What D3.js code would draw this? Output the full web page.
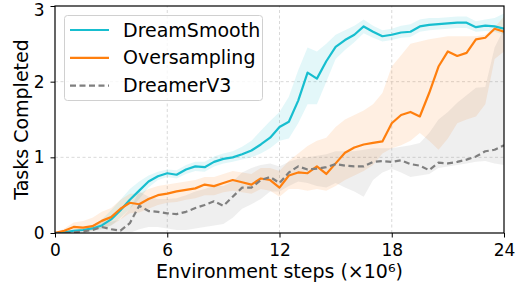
<!DOCTYPE html>
<html>
<head>
<meta charset="utf-8">
<script src="https://cdn.jsdelivr.net/npm/d3@7"></script>
<style>
  body { margin: 0; background: #fff; }
  text { font-family: "DejaVu Sans", sans-serif; fill: #000; }
</style>
</head>
<body>
<svg id="chart" width="516" height="288"></svg>
<script>
// x-Werte (Millionen Schritte), alle 0.5
const steps = d3.range(0, 24.01, 0.5);

// DreamSmooth: Mittelwert, untere / obere Grenze
const dreamSmooth = [0, 0.01, 0.03, 0.04, 0.06, 0.10, 0.18, 0.30, 0.44, 0.56, 0.68, 0.75, 0.79, 0.77, 0.84, 0.88, 0.87, 0.94, 0.98, 1.00,
  1.04, 1.09, 1.17, 1.26, 1.40, 1.47, 1.75, 2.12, 2.04, 2.27, 2.46, 2.55, 2.62, 2.73, 2.66, 2.60, 2.62, 2.65, 2.66, 2.73,
  2.75, 2.76, 2.77, 2.78, 2.78, 2.72, 2.74, 2.73, 2.70];
const dreamSmoothLo = [0, 0.0, 0.01, 0.02, 0.03, 0.05, 0.10, 0.20, 0.32, 0.45, 0.60, 0.70, 0.74, 0.72, 0.78, 0.82, 0.81, 0.88, 0.92, 0.94,
  0.97, 1.00, 1.05, 1.12, 1.22, 1.25, 1.45, 1.70, 1.70, 2.00, 2.30, 2.42, 2.52, 2.64, 2.58, 2.53, 2.55, 2.58, 2.59, 2.66,
  2.68, 2.69, 2.70, 2.71, 2.71, 2.66, 2.67, 2.66, 2.62];
const dreamSmoothHi = [0, 0.02, 0.05, 0.07, 0.10, 0.18, 0.30, 0.44, 0.58, 0.68, 0.76, 0.81, 0.84, 0.83, 0.90, 0.94, 0.94, 1.01, 1.05, 1.08,
  1.14, 1.22, 1.35, 1.48, 1.60, 1.80, 2.15, 2.45, 2.40, 2.50, 2.62, 2.68, 2.74, 2.82, 2.74, 2.68, 2.70, 2.74, 2.76, 2.82,
  2.84, 2.84, 2.85, 2.86, 2.86, 2.80, 2.82, 2.84, 2.90];

// Oversampling
const overSampling = [0, 0.03, 0.08, 0.07, 0.09, 0.16, 0.21, 0.32, 0.40, 0.38, 0.45, 0.50, 0.52, 0.55, 0.57, 0.59, 0.64, 0.62, 0.66, 0.70,
  0.67, 0.64, 0.72, 0.70, 0.60, 0.76, 0.80, 0.79, 0.88, 0.78, 0.92, 1.06, 1.13, 1.17, 1.19, 1.21, 1.45, 1.56, 1.60, 1.54,
  1.85, 2.20, 2.40, 2.34, 2.38, 2.56, 2.58, 2.70, 2.66];
const overSamplingLo = [0, 0.0, 0.02, 0.02, 0.03, 0.06, 0.10, 0.18, 0.26, 0.27, 0.32, 0.37, 0.40, 0.41, 0.44, 0.46, 0.50, 0.50, 0.54, 0.56,
  0.54, 0.52, 0.58, 0.56, 0.48, 0.58, 0.58, 0.56, 0.58, 0.56, 0.62, 0.70, 0.76, 0.82, 0.90, 1.05, 1.12, 1.16, 1.22, 1.32,
  1.22, 1.10, 1.25, 1.45, 1.50, 1.54, 1.70, 2.30, 2.40];
const overSamplingHi = [0, 0.06, 0.14, 0.16, 0.20, 0.28, 0.33, 0.44, 0.52, 0.52, 0.58, 0.62, 0.64, 0.66, 0.68, 0.70, 0.74, 0.74, 0.78, 0.82,
  0.80, 0.78, 0.86, 0.86, 0.82, 0.95, 1.05, 1.15, 1.22, 1.26, 1.40, 1.50, 1.56, 1.62, 1.70, 1.85, 2.20, 2.35, 2.50, 2.53,
  2.56, 2.58, 2.60, 2.60, 2.60, 2.60, 2.62, 2.72, 2.86];

// DreamerV3
const dreamerV3 = [0, 0.0, 0.01, 0.02, 0.04, 0.08, 0.05, 0.03, 0.13, 0.36, 0.29, 0.28, 0.26, 0.25, 0.28, 0.33, 0.37, 0.42, 0.36, 0.48,
  0.60, 0.60, 0.70, 0.74, 0.66, 0.80, 0.88, 0.84, 0.85, 0.87, 0.91, 0.89, 0.88, 0.88, 0.94, 0.95, 0.94, 0.96, 0.91, 0.89,
  0.83, 0.93, 0.92, 0.94, 0.97, 1.01, 1.08, 1.10, 1.16];
const dreamerV3Lo = [0, 0.0, 0.0, 0.0, 0.0, 0.0, 0.0, 0.0, 0.0, 0.05, 0.08, 0.08, 0.06, 0.04, 0.04, 0.06, 0.08, 0.10, 0.12, 0.20,
  0.32, 0.38, 0.45, 0.55, 0.55, 0.62, 0.68, 0.66, 0.62, 0.60, 0.66, 0.60, 0.55, 0.48, 0.70, 0.80, 0.85, 0.80, 0.74, 0.76,
  0.78, 0.86, 0.88, 0.90, 0.92, 0.94, 0.95, 0.92, 0.90];
const dreamerV3Hi = [0, 0.02, 0.04, 0.06, 0.10, 0.16, 0.15, 0.18, 0.32, 0.55, 0.48, 0.45, 0.45, 0.46, 0.50, 0.55, 0.58, 0.62, 0.62, 0.68,
  0.80, 0.86, 0.90, 0.92, 0.88, 0.94, 0.98, 1.00, 1.02, 1.04, 1.08, 1.08, 1.08, 1.10, 1.12, 1.12, 1.12, 1.14, 1.16, 1.19,
  1.32, 1.50, 1.60, 1.72, 1.82, 1.92, 1.93, 2.45, 2.70];

const xTicks = [0, 6, 12, 18, 24];
const yTicks = [0, 1, 2, 3];

const series = [
  { name: 'DreamSmooth', mean: dreamSmooth, lo: dreamSmoothLo, hi: dreamSmoothHi, color: '#17becf', dash: null },
  { name: 'Oversampling', mean: overSampling, lo: overSamplingLo, hi: overSamplingHi, color: '#ff7f0e', dash: null },
  { name: 'DreamerV3', mean: dreamerV3, lo: dreamerV3Lo, hi: dreamerV3Hi, color: '#7f7f7f', dash: '6,3.5' }
];

const margin = { left: 55, right: 12, top: 6, bottom: 55 };
const width = 516, height = 288;

const svg = d3.select('#chart');

const x = d3.scaleLinear().domain([0, 24]).range([margin.left, width - margin.right]);
const y = d3.scaleLinear().domain([0, 3]).range([height - margin.bottom, margin.top]);

// Clip auf Plotbereich
svg.append('defs').append('clipPath').attr('id', 'clip')
  .append('rect')
  .attr('x', x(0)).attr('y', y(3))
  .attr('width', x(24) - x(0)).attr('height', y(0) - y(3));

// Gitterlinien
const grid = svg.append('g');
grid.selectAll('line.gx').data(xTicks.slice(1, -1)).enter().append('line')
  .attr('x1', d => x(d)).attr('x2', d => x(d))
  .attr('y1', y(0)).attr('y2', y(3))
  .attr('stroke', '#cfcfcf').attr('stroke-width', 0.8).attr('stroke-dasharray', '3,2.5');
grid.selectAll('line.gy').data(yTicks.slice(1, -1)).enter().append('line')
  .attr('x1', x(0)).attr('x2', x(24))
  .attr('y1', d => y(d)).attr('y2', d => y(d))
  .attr('stroke', '#cfcfcf').attr('stroke-width', 0.8).attr('stroke-dasharray', '3,2.5');

const plot = svg.append('g').attr('clip-path', 'url(#clip)');

// Bänder
series.forEach(s => {
  const area = d3.area()
    .x((d, i) => x(steps[i]))
    .y0((d, i) => y(s.lo[i]))
    .y1((d, i) => y(s.hi[i]));
  plot.append('path')
    .attr('d', area(s.mean))
    .attr('fill', s.color)
    .attr('fill-opacity', 0.12)
    .attr('stroke', 'none');
});

// Linien
series.forEach(s => {
  const line = d3.line()
    .x((d, i) => x(steps[i]))
    .y(d => y(d));
  plot.append('path')
    .attr('d', line(s.mean))
    .attr('fill', 'none')
    .attr('stroke', s.color)
    .attr('stroke-width', 2.2)
    .attr('stroke-linejoin', 'round')
    .attr('stroke-dasharray', s.dash);
});

// Achsen
const xAxis = svg.append('g')
  .attr('transform', `translate(0,${y(0)})`)
  .call(d3.axisBottom(x).tickValues(xTicks).tickFormat(d3.format('d')).tickSize(4.5).tickPadding(6.5));
const yAxis = svg.append('g')
  .attr('transform', `translate(${x(0)},0)`)
  .call(d3.axisLeft(y).tickValues(yTicks).tickFormat(d3.format('d')).tickSize(4.5).tickPadding(6));
[xAxis, yAxis].forEach(a => {
  a.select('.domain').remove();
  a.selectAll('line').attr('stroke', '#000').attr('stroke-width', 1);
  a.selectAll('text').style('font-size', '17px').attr('fill', '#000');
});
// oberstes Label etwas nach unten, damit es nicht abgeschnitten wird
yAxis.selectAll('.tick text').filter(d => d === 3).attr('dy', '0.55em');

// Rahmen
svg.append('rect')
  .attr('x', x(0)).attr('y', y(3))
  .attr('width', x(24) - x(0)).attr('height', y(0) - y(3))
  .attr('fill', 'none').attr('stroke', '#000').attr('stroke-width', 1.2);

// Achsenbeschriftungen
svg.append('text')
  .attr('x', (x(0) + x(24)) / 2).attr('y', 278)
  .attr('text-anchor', 'middle').style('font-size', '19px')
  .text('Environment steps (×10⁶)');
svg.append('text')
  .attr('transform', `translate(28,${(y(0) + y(3)) / 2}) rotate(-90)`)
  .attr('text-anchor', 'middle').style('font-size', '19px')
  .text('Tasks Completed');

// Legende
const legend = svg.append('g');
legend.append('rect')
  .attr('x', 64.5).attr('y', 15.5).attr('width', 198).attr('height', 85).attr('rx', 3)
  .attr('fill', '#fff').attr('fill-opacity', 0.8)
  .attr('stroke', '#d0d0d0').attr('stroke-width', 1);
series.forEach((s, i) => {
  const ly = 30 + i * 27.8;
  legend.append('line')
    .attr('x1', 70).attr('x2', 109).attr('y1', ly).attr('y2', ly)
    .attr('stroke', s.color).attr('stroke-width', 2.2)
    .attr('stroke-dasharray', s.dash);
  legend.append('text')
    .attr('x', 123).attr('y', ly).attr('dy', '0.35em')
    .style('font-size', '19px')
    .text(s.name);
});
</script>
</body>
</html>
